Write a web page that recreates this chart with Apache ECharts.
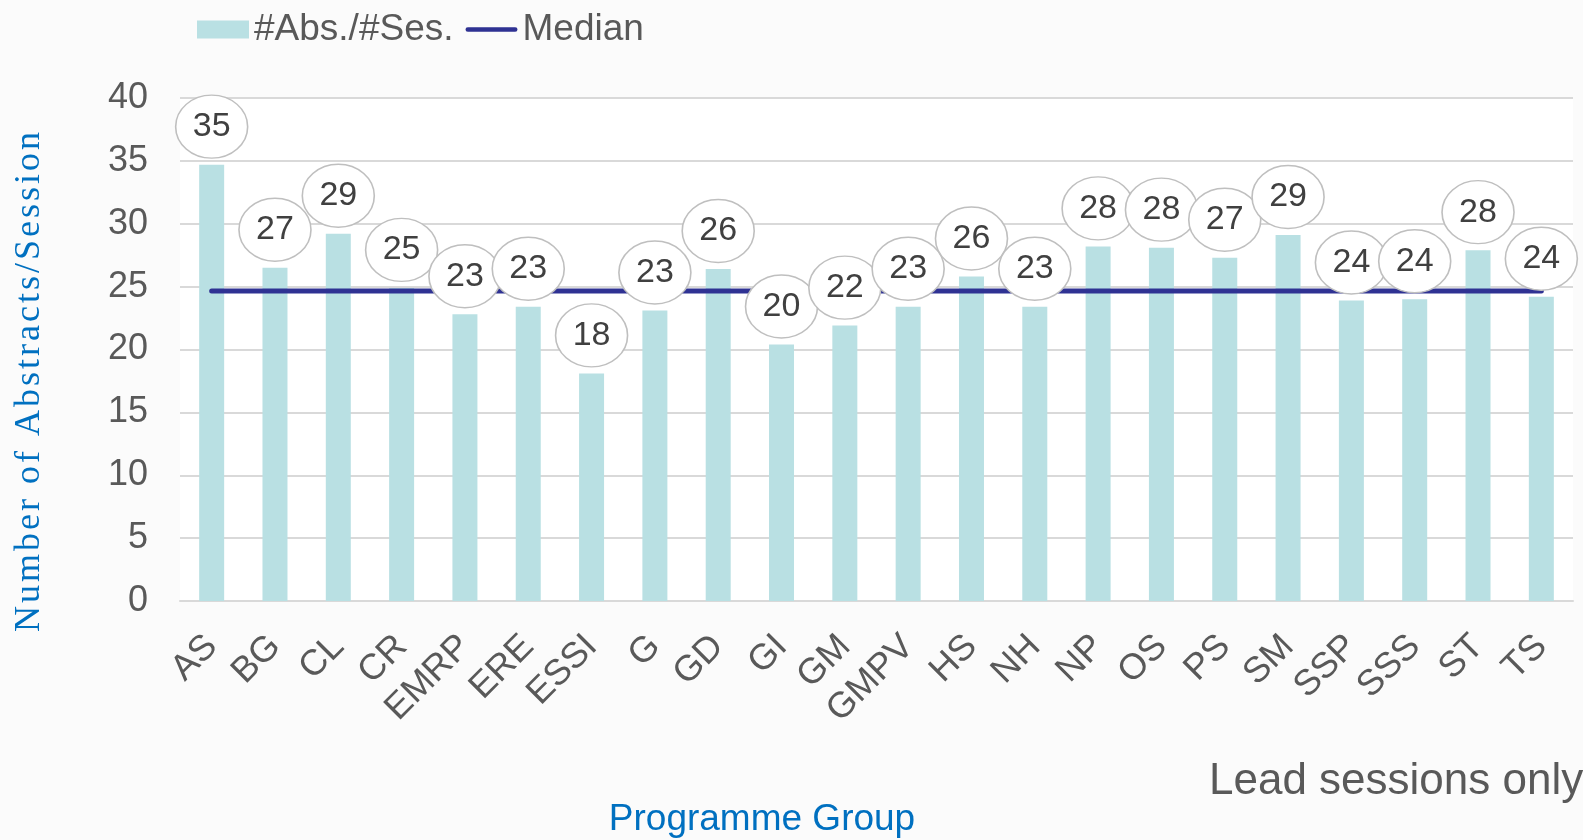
<!DOCTYPE html>
<html>
<head>
<meta charset="utf-8">
<script src="https://cdn.jsdelivr.net/npm/echarts@6/dist/echarts.min.js"></script>
<style>html,body{margin:0;padding:0;background:#fff}#chart{width:1583px;height:840px}</style>
</head>
<body>
<div id="chart"></div>
<script>
const categories = ['AS','BG','CL','CR','EMRP','ERE','ESSI','G','GD','GI','GM','GMPV','HS','NH','NP','OS','PS','SM','SSP','SSS','ST','TS'];
const absPerSession = [34.7, 26.5, 29.2, 24.9, 22.8, 23.4, 18.1, 23.1, 26.4, 20.4, 21.9, 23.4, 25.8, 23.4, 28.2, 28.1, 27.3, 29.1, 23.9, 24.0, 27.9, 24.2];
const medianLine = [24.65, 24.65, 24.65, 24.65, 24.65, 24.65, 24.65, 24.65, 24.65, 24.65, 24.65, 24.65, 24.65, 24.65, 24.65, 24.65, 24.65, 24.65, 24.65, 24.65, 24.65, 24.65];
const yTicks = { min: 0, max: 40, interval: 5 };
const seriesNames = ['#Abs./#Ses.', 'Median'];
const yTitle = 'Number of Abstracts/Session';
const xTitle = 'Programme Group';
const note = 'Lead sessions only';

const sans = "'Liberation Sans', Arial, sans-serif";
const chart = echarts.init(document.getElementById('chart'), null, { renderer: 'canvas' });
chart.setOption({
  backgroundColor: '#fbfbfb',
  animation: false,
  legend: {
    left: 192, top: 6,
    itemWidth: 52, itemHeight: 18, itemGap: 12,
    textStyle: { fontFamily: sans, fontSize: 37, color: '#595959' },
    data: [
      { name: seriesNames[0], icon: 'rect' },
      { name: seriesNames[1], icon: 'path://M2.5,0 L53.5,0 A2.5,2.5 0 0 1 53.5,5 L2.5,5 A2.5,2.5 0 0 1 2.5,0 Z' }
    ]
  },
  grid: { left: 180, right: 10, top: 98, bottom: 239, containLabel: false, show: true, backgroundColor: '#ffffff', borderWidth: 0 },
  xAxis: {
    type: 'category', data: categories,
    axisTick: { show: false },
    axisLine: { lineStyle: { color: '#d9d9d9', width: 2 } },
    axisLabel: { rotate: 45, interval: 0, margin: 40, fontFamily: sans, fontSize: 36, color: '#595959' }
  },
  yAxis: {
    type: 'value', min: yTicks.min, max: yTicks.max, interval: yTicks.interval,
    axisLine: { show: false }, axisTick: { show: false },
    axisLabel: { margin: 32, fontFamily: sans, fontSize: 36, color: '#595959' },
    splitLine: { lineStyle: { color: '#d9d9d9', width: 2 } }
  },
  graphic: [
    { type: 'text', x: 30, y: 382, rotation: Math.PI / 2,
      style: { text: yTitle.split('').join('\u200A'), fontFamily: "'Liberation Serif', 'DejaVu Serif', serif", fontSize: 36, fill: '#0070c0', align: 'center', verticalAlign: 'middle' } },
    { type: 'text', x: 762, y: 820,
      style: { text: xTitle, fontFamily: sans, fontSize: 37, fill: '#0070c0', align: 'center', verticalAlign: 'middle' } },
    { type: 'text', x: 1209, y: 782,
      style: { text: note, fontFamily: sans, fontSize: 44, fill: '#595959', align: 'left', verticalAlign: 'middle' } }
  ],
  series: [
    { name: seriesNames[0], type: 'bar', data: absPerSession, barWidth: 25,
      itemStyle: { color: '#b9e0e3' }, z: 2 },
    { name: seriesNames[1], type: 'line', data: medianLine, symbol: 'none',
      lineStyle: { color: '#2f3293', width: 5, cap: 'round' }, itemStyle: { color: '#2f3293' }, z: 3 },
    { name: 'labels', type: 'scatter', data: absPerSession, symbol: 'circle', symbolSize: [72, 63], symbolOffset: [0, -38],
      itemStyle: { color: '#ffffff', borderColor: '#bfbfbf', borderWidth: 1.5, opacity: 1 }, z: 4,
      label: { show: true, position: 'inside', formatter: p => Math.round(p.value), fontFamily: sans, fontSize: 34, color: '#404040' } }
  ]
});
</script>
</body>
</html>
